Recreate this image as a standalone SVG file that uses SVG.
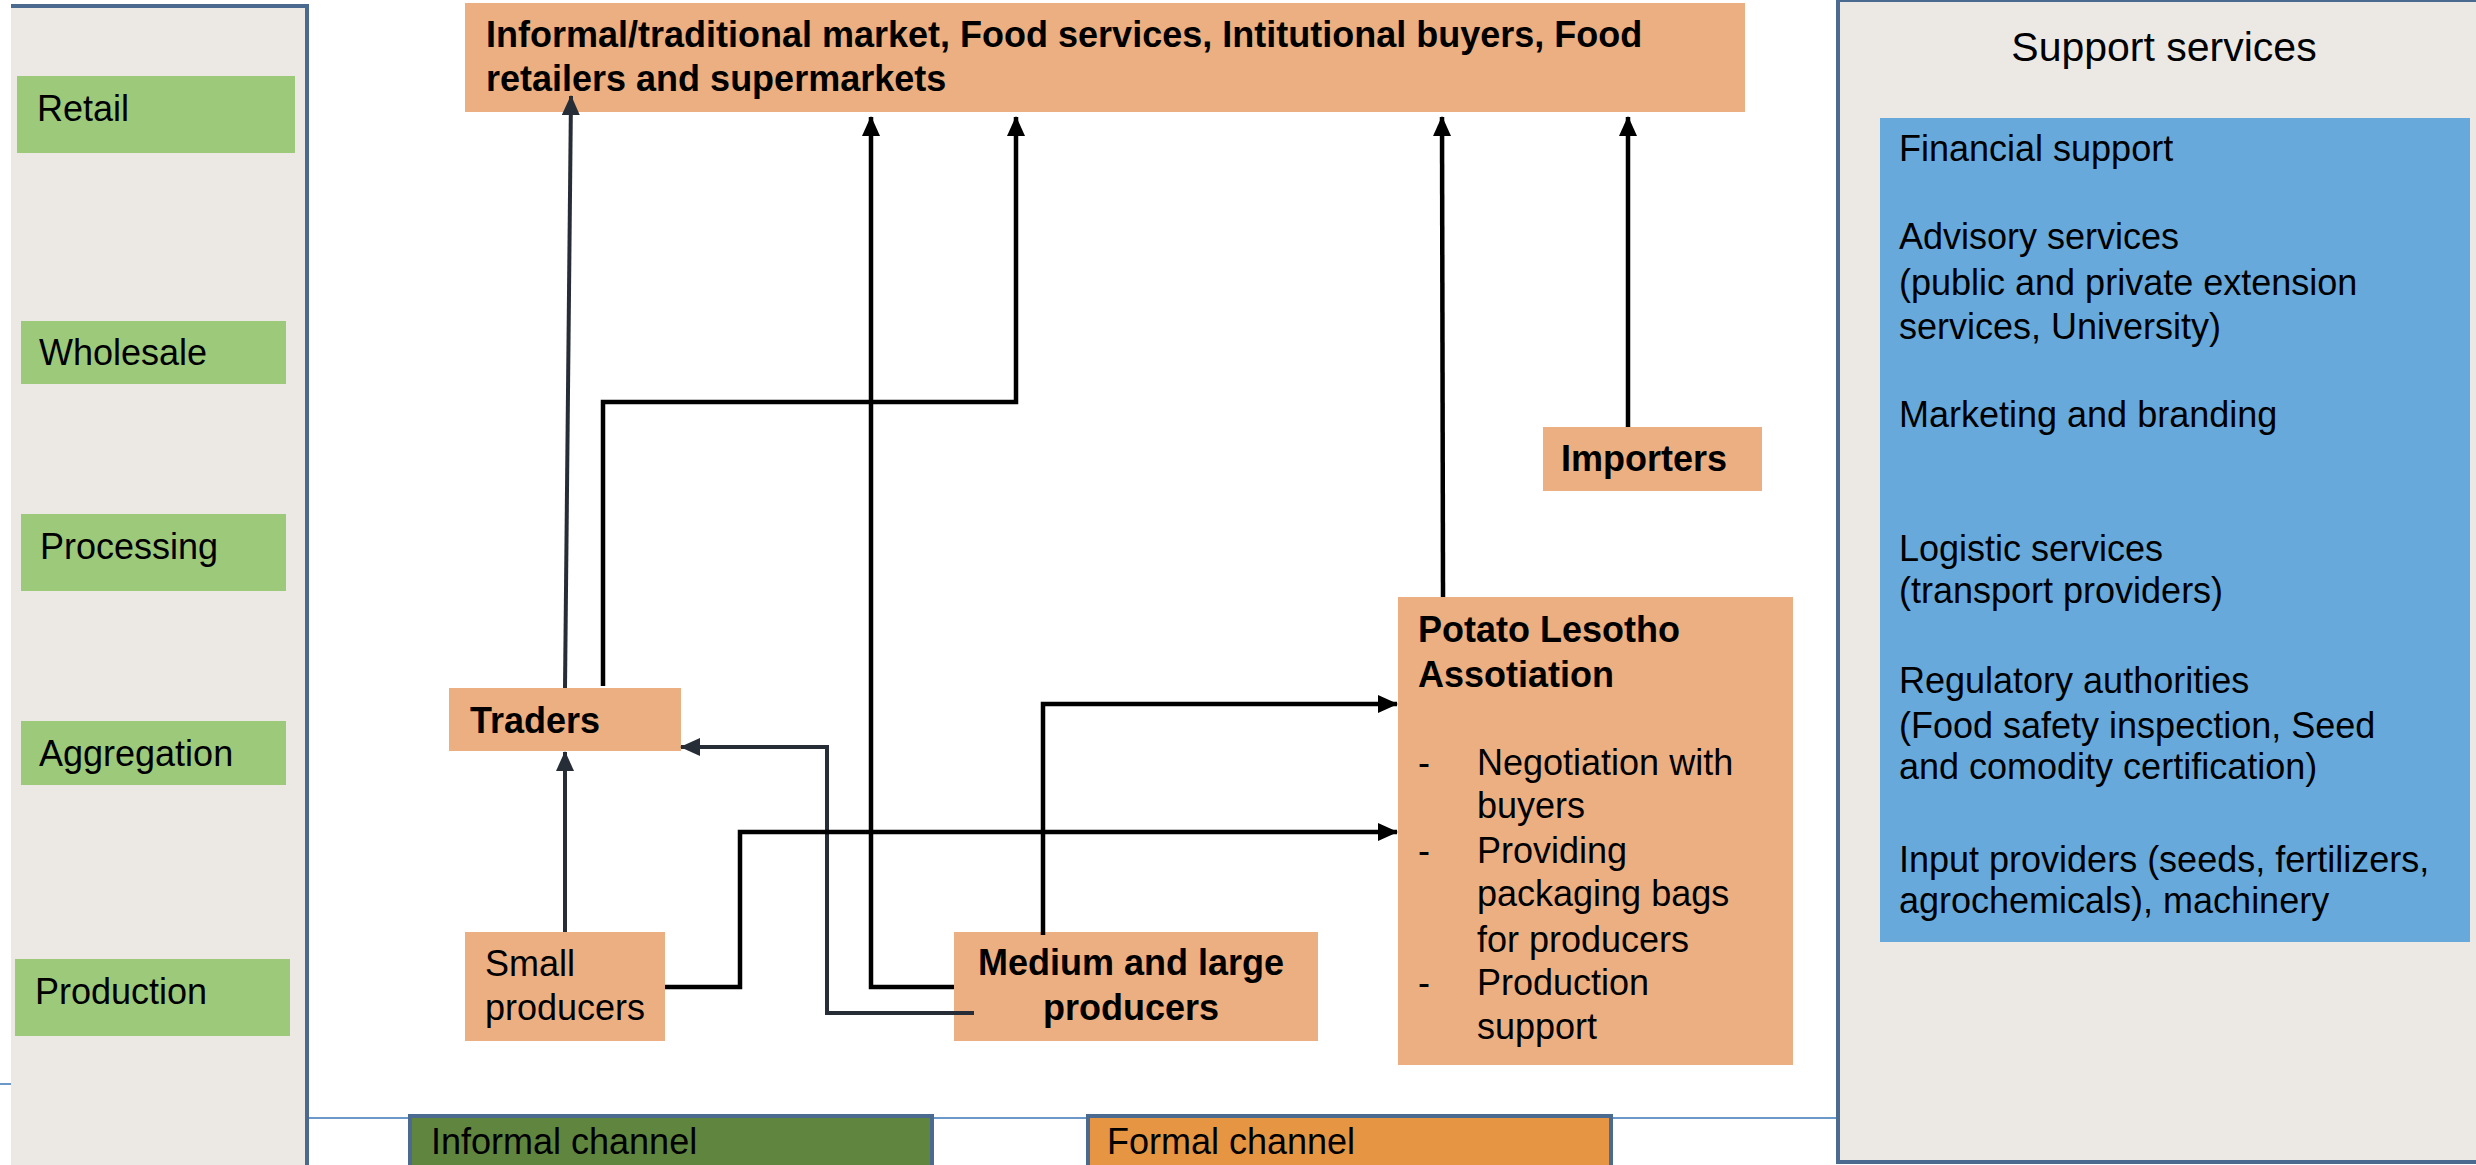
<svg xmlns="http://www.w3.org/2000/svg" width="2476" height="1165" viewBox="0 0 2476 1165">
<style>
text{font-family:"Liberation Sans",Arial,sans-serif;font-size:36px;fill:#000}
.b{font-weight:bold}
.stage{fill:#9DC97A}
.node{fill:#EBAF81}
.panel{fill:#ECE9E5}
.blk{fill:none;stroke:#000;stroke-width:4.5}
.slate{fill:none;stroke:#272D36;stroke-width:4}
</style>
<defs>
<marker id="ah" viewBox="0 0 20 18" refX="19" refY="9" markerWidth="20" markerHeight="18" markerUnits="userSpaceOnUse" orient="auto"><path d="M0,0 L20,9 L0,18 Z" fill="#000"/></marker>
<marker id="ahs" viewBox="0 0 20 18" refX="19" refY="9" markerWidth="20" markerHeight="18" markerUnits="userSpaceOnUse" orient="auto"><path d="M0,0 L20,9 L0,18 Z" fill="#272D36"/></marker>
</defs>
<rect width="2476" height="1165" fill="#fff"/>
<g id="stages-panel">
<rect class="panel" x="11" y="4" width="296" height="1165"/>
<path d="M11,6 H307 V1165" fill="none" stroke="#4A6A90" stroke-width="4"/>
<line x1="0" y1="1084" x2="11" y2="1084" stroke="#6C97C9" stroke-width="2"/>
</g>
<g id="retail"><rect class="stage" x="17" y="76" width="278" height="77"/><text x="37" y="121">Retail</text></g>
<g id="wholesale"><rect class="stage" x="21" y="321" width="265" height="63"/><text x="39" y="365">Wholesale</text></g>
<g id="processing"><rect class="stage" x="21" y="514" width="265" height="77"/><text x="40" y="559">Processing</text></g>
<g id="aggregation"><rect class="stage" x="21" y="721" width="265" height="64"/><text x="39" y="766">Aggregation</text></g>
<g id="production"><rect class="stage" x="15" y="959" width="275" height="77"/><text x="35" y="1004">Production</text></g>
<line x1="309" y1="1118" x2="1838" y2="1118" stroke="#6C97C9" stroke-width="2"/>
<g id="support-services">
<rect class="panel" x="1838" y="0" width="640" height="1162"/>
<path d="M1838,0 V1162 H2476" fill="none" stroke="#4A6A90" stroke-width="4"/>
<line x1="1838" y1="1" x2="2476" y2="1" stroke="#4A6A90" stroke-width="2"/>
<text x="2164" y="61" text-anchor="middle" style="font-size:41px">Support services</text>
<rect x="1880" y="118" width="590" height="824" fill="#67A9DA"/>
<text x="1899" y="161">Financial support</text>
<text x="1899" y="249">Advisory services</text>
<text x="1899" y="295">(public and private extension</text>
<text x="1899" y="339">services, University)</text>
<text x="1899" y="427">Marketing and branding</text>
<text x="1899" y="561">Logistic services</text>
<text x="1899" y="603">(transport providers)</text>
<text x="1899" y="693">Regulatory authorities</text>
<text x="1899" y="738">(Food safety inspection, Seed</text>
<text x="1899" y="779">and comodity certification)</text>
<text x="1899" y="872">Input providers (seeds, fertilizers,</text>
<text x="1899" y="913">agrochemicals), machinery</text>
</g>
<g id="markets"><rect class="node" x="465" y="3" width="1280" height="109"/>
<text class="b" x="486" y="47">Informal/traditional market, Food services, Intitutional buyers, Food</text>
<text class="b" x="486" y="91">retailers and supermarkets</text></g>
<g id="importers"><rect class="node" x="1543" y="427" width="219" height="64"/><text class="b" x="1561" y="471">Importers</text></g>
<g id="traders"><rect class="node" x="449" y="688" width="232" height="63"/><text class="b" x="470" y="733">Traders</text></g>
<g id="small-producers"><rect class="node" x="465" y="932" width="200" height="109"/><text x="485" y="976">Small</text><text x="485" y="1020">producers</text></g>
<g id="medium-large-producers"><rect class="node" x="954" y="932" width="364" height="109"/><text class="b" x="1131" y="975" text-anchor="middle">Medium and large</text><text class="b" x="1131" y="1020" text-anchor="middle">producers</text></g>
<g id="potato-association"><rect class="node" x="1398" y="597" width="395" height="468"/>
<text class="b" x="1418" y="642">Potato Lesotho</text>
<text class="b" x="1418" y="687">Assotiation</text>
<text x="1418" y="775">-</text><text x="1477" y="775">Negotiation with</text>
<text x="1477" y="818">buyers</text>
<text x="1418" y="863">-</text><text x="1477" y="863">Providing</text>
<text x="1477" y="906">packaging bags</text>
<text x="1477" y="952">for producers</text>
<text x="1418" y="995">-</text><text x="1477" y="995">Production</text>
<text x="1477" y="1039">support</text></g>
<g id="informal-channel"><rect x="410" y="1116" width="522" height="60" fill="#5F853E" stroke="#4A6A90" stroke-width="4"/><text x="431" y="1154">Informal channel</text></g>
<g id="formal-channel"><rect x="1088" y="1116" width="523" height="60" fill="#E69543" stroke="#4A6A90" stroke-width="4"/><text x="1107" y="1154">Formal channel</text></g>
<g id="connectors">
<line class="slate" x1="565" y1="688" x2="571" y2="96" marker-end="url(#ahs)"/>
<path class="blk" d="M603,686 V402 H1016 V117" marker-end="url(#ah)"/>
<path class="blk" d="M954,987 H871 V117" marker-end="url(#ah)"/>
<path class="slate" d="M974,1013 H827 V747 H681" marker-end="url(#ahs)"/>
<path class="blk" d="M665,987 H740 V832 H1397" marker-end="url(#ah)"/>
<path class="blk" d="M1043,935 V704 H1397" marker-end="url(#ah)"/>
<line class="slate" x1="565" y1="932" x2="565" y2="752" marker-end="url(#ahs)"/>
<line class="blk" x1="1443" y1="597" x2="1442" y2="117" marker-end="url(#ah)"/>
<line class="blk" x1="1628" y1="427" x2="1628" y2="117" marker-end="url(#ah)"/>
</g>
</svg>
